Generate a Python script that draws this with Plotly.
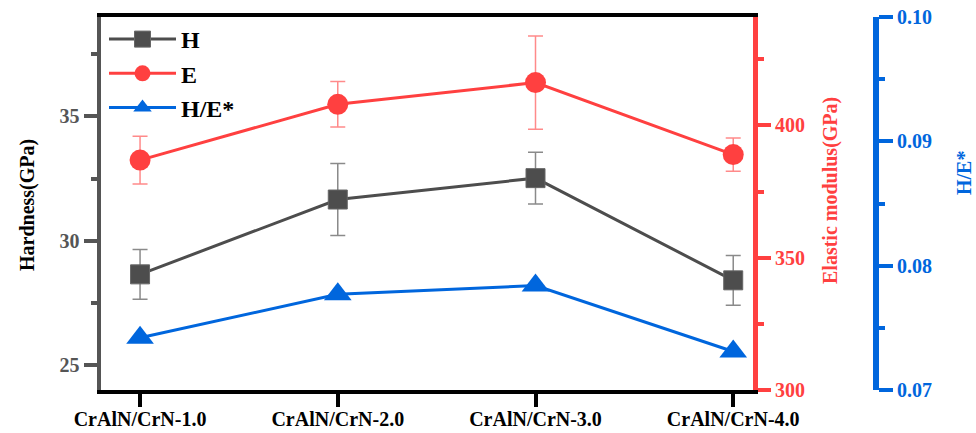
import plotly.graph_objects as go

categories = ["CrAlN/CrN-1.0", "CrAlN/CrN-2.0", "CrAlN/CrN-3.0", "CrAlN/CrN-4.0"]
hardness = [28.65, 31.66, 32.52, 28.41]
hardness_err = [1.0, 1.45, 1.04, 1.0]
modulus = [386.9, 408.0, 416.2, 389.0]
modulus_err = [9.0, 8.6, 17.6, 6.3]
h_over_e = [0.0742, 0.0777, 0.0784, 0.0731]

W, H = 976, 433
FONT = "Liberation Serif"
GRAY = "#4d4d4d"
RED = "#ff4040"
BLUE = "#0066dd"

def px_x(p):
    return p / W

def px_y(p):
    return 1 - p / H

fig = go.Figure()
fig.add_trace(go.Scatter(
    x=categories, y=hardness, name="H", mode="lines+markers",
    line=dict(color=GRAY, width=3),
    marker=dict(symbol="square", size=19, color=GRAY, line=dict(color="#666666", width=1)),
    error_y=dict(type="data", array=hardness_err, color="#8a8a8a", thickness=1.5, width=7.5),
    yaxis="y"))
fig.add_trace(go.Scatter(
    x=categories, y=modulus, name="E", mode="lines+markers",
    line=dict(color=RED, width=3),
    marker=dict(symbol="circle", size=21, color=RED),
    error_y=dict(type="data", array=modulus_err, color="#ff8a8a", thickness=1.5, width=7.5),
    yaxis="y2"))
fig.add_trace(go.Scatter(
    x=categories, y=h_over_e, name="H/E*", mode="lines+markers",
    line=dict(color=BLUE, width=3),
    marker=dict(symbol="triangle-up", size=24, color=BLUE),
    yaxis="y3"))

tickfont = lambda c: dict(family=FONT, size=20, color=c, weight="bold")

fig.update_layout(
    width=W, height=H,
    margin=dict(l=0, r=0, t=0, b=0, autoexpand=False),
    plot_bgcolor="white", paper_bgcolor="white",
    showlegend=True,
    legend=dict(x=px_x(104), y=px_y(17), xanchor="left", yanchor="top",
                bgcolor="rgba(0,0,0,0)", font=dict(family=FONT, size=24, color="black", weight="bold"),
                tracegroupgap=0, itemwidth=67),
    xaxis=dict(
        type="category", domain=[px_x(100.5), px_x(753)], range=[-0.2, 3.1], automargin=False,
        showline=True, linecolor="black", linewidth=4, mirror=True,
        ticks="outside", ticklen=13, tickwidth=4, tickcolor="black", ticklabelstandoff=-5,
        tickfont=tickfont("black"), showgrid=False, zeroline=False),
    yaxis=dict(
        domain=[px_y(390), px_y(17)], range=[24, 39], tick0=25, dtick=5, automargin=False,
        showline=True, linecolor="#555555", linewidth=4,
        ticks="outside", ticklen=13, tickwidth=4, tickcolor="#555555",
        minor=dict(dtick=2.5, tick0=25, ticks="outside", ticklen=6, tickwidth=4, tickcolor="#555555"),
        tickfont=tickfont("#555555"), showgrid=False, zeroline=False),
    yaxis2=dict(
        overlaying="y", side="right", anchor="x", range=[300, 441], tick0=300, dtick=50, automargin=False,
        showline=True, linecolor=RED, linewidth=5,
        ticks="outside", ticklen=13, tickwidth=4, tickcolor=RED,
        minor=dict(dtick=25, tick0=300, ticks="outside", ticklen=6, tickwidth=4, tickcolor=RED),
        tickfont=tickfont(RED), showgrid=False, zeroline=False),
    yaxis3=dict(
        overlaying="y", side="right", anchor="free", position=px_x(876), automargin=False,
        range=[0.07, 0.10], tick0=0.07, dtick=0.01, tickformat=".2f",
        showline=True, linecolor=BLUE, linewidth=6,
        ticks="outside", ticklen=14, tickwidth=4, tickcolor=BLUE,
        minor=dict(dtick=0.005, tick0=0.07, ticks="outside", ticklen=6, tickwidth=4, tickcolor=BLUE),
        tickfont=tickfont(BLUE), showgrid=False, zeroline=False),
    annotations=[
        dict(text="Hardness(GPa)", xref="paper", yref="paper", x=px_x(27), y=px_y(205),
             xanchor="center", yanchor="middle",
             showarrow=False, textangle=-90, font=dict(family=FONT, size=20, color="black", weight="bold")),
        dict(text="Elastic modulus(GPa)", xref="paper", yref="paper", x=px_x(830), y=px_y(191),
             xanchor="center", yanchor="middle",
             showarrow=False, textangle=-90, font=dict(family=FONT, size=20, color=RED, weight="bold")),
        dict(text="H/E*", xref="paper", yref="paper", x=px_x(964), y=px_y(173),
             xanchor="center", yanchor="middle",
             showarrow=False, textangle=-90, font=dict(family=FONT, size=20, color=BLUE, weight="bold")),
    ],
)

fig.write_html("out.html")
